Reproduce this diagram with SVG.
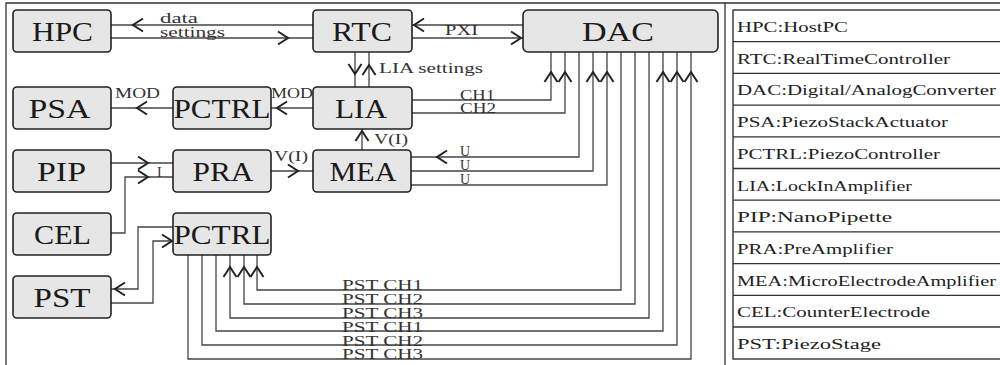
<svg xmlns="http://www.w3.org/2000/svg" xmlns:xlink="http://www.w3.org/1999/xlink" width="1000" height="365" viewBox="0 0 1000 365">
<style>
.node rect{fill:#e6e6e6;stroke:#222;stroke-width:1.6}
.nl{font-family:"Liberation Serif",serif;font-size:27px;fill:#1a1a1a}
.sl{font-family:"Liberation Serif",serif;font-size:14px;fill:#333}
.lg{font-family:"Liberation Serif",serif;font-size:14.5px;fill:#222}
.cn path{fill:none;stroke:#444;stroke-width:1.3}
.frame{fill:none;stroke:#333;stroke-width:1.3}
.lgb{fill:#fff;stroke:#222;stroke-width:1.3}
</style>
<defs>
<path id="ah" d="M-10,-6.5 L0,0 L-10,6.5" fill="none" stroke="#222" stroke-width="2" stroke-linejoin="miter"/>
</defs>
<rect width="1000" height="365" fill="#fff"/>
<path class="frame" d="M6,365 V3 H1000 M725,3 V365"/>

<g id="legend">
<rect class="lgb" x="733" y="10" width="280" height="349"/>
<path class="frame" d="M733,41.7 H1000 M733,73.4 H1000 M733,105.1 H1000 M733,136.8 H1000 M733,168.5 H1000 M733,200.2 H1000 M733,231.9 H1000 M733,263.6 H1000 M733,295.3 H1000 M733,327 H1000"/>
<text class="lg" x="737" y="32" textLength="111" lengthAdjust="spacingAndGlyphs">HPC:HostPC</text>
<text class="lg" x="737" y="63.7" textLength="213" lengthAdjust="spacingAndGlyphs">RTC:RealTimeController</text>
<text class="lg" x="737" y="95.4" textLength="259" lengthAdjust="spacingAndGlyphs">DAC:Digital/AnalogConverter</text>
<text class="lg" x="737" y="127.1" textLength="211" lengthAdjust="spacingAndGlyphs">PSA:PiezoStackActuator</text>
<text class="lg" x="737" y="158.8" textLength="203" lengthAdjust="spacingAndGlyphs">PCTRL:PiezoController</text>
<text class="lg" x="737" y="190.5" textLength="175" lengthAdjust="spacingAndGlyphs">LIA:LockInAmplifier</text>
<text class="lg" x="737" y="222.2" textLength="155" lengthAdjust="spacingAndGlyphs">PIP:NanoPipette</text>
<text class="lg" x="737" y="253.9" textLength="156" lengthAdjust="spacingAndGlyphs">PRA:PreAmplifier</text>
<text class="lg" x="737" y="285.6" textLength="259" lengthAdjust="spacingAndGlyphs">MEA:MicroElectrodeAmplifier</text>
<text class="lg" x="737" y="317.3" textLength="193" lengthAdjust="spacingAndGlyphs">CEL:CounterElectrode</text>
<text class="lg" x="737" y="349" textLength="144" lengthAdjust="spacingAndGlyphs">PST:PiezoStage</text>
</g>

<g id="connectors" class="cn">
<path d="M111,25 H313 M111,38 H313"/>
<path d="M412,25 H523 M412,38 H523"/>
<path d="M355,52 V87 M369,52 V87"/>
<path d="M313,108 H271 M173,108 H111"/>
<path d="M412,100 H551 V52 M412,113 H565 V52"/>
<path d="M579,52 V157 H411 M411,171 H593 V52 M411,185 H607 V52"/>
<path d="M621,52 V290 H257 V255 M635,52 V304 H244 V255 M649,52 V318 H230 V255"/>
<path d="M216,255 V331 H663 V52 M202,255 V345 H677 V52 M188,255 V359 H691 V52"/>
<path d="M111,163 H173 M111,233 H125 V177 H173"/>
<path d="M271,171 H313 M362,150 V129"/>
<path d="M173,227 H138 V289 H111 M111,303 H153 V241 H173"/>
<g id="arrows">
<use xlink:href="#ah" href="#ah" transform="translate(133,25) rotate(180)"/>
<use xlink:href="#ah" href="#ah" transform="translate(288,38)"/>
<use xlink:href="#ah" href="#ah" transform="translate(414,25) rotate(180)"/>
<use xlink:href="#ah" href="#ah" transform="translate(521,38)"/>
<use xlink:href="#ah" href="#ah" transform="translate(355,74) rotate(90)"/>
<use xlink:href="#ah" href="#ah" transform="translate(369,65) rotate(-90)"/>
<use xlink:href="#ah" href="#ah" transform="translate(277,108) rotate(180)"/>
<use xlink:href="#ah" href="#ah" transform="translate(137,108) rotate(180)"/>
<use xlink:href="#ah" href="#ah" transform="translate(551,72) rotate(-90)"/>
<use xlink:href="#ah" href="#ah" transform="translate(565,72) rotate(-90)"/>
<use xlink:href="#ah" href="#ah" transform="translate(593,72) rotate(-90)"/>
<use xlink:href="#ah" href="#ah" transform="translate(607,72) rotate(-90)"/>
<use xlink:href="#ah" href="#ah" transform="translate(663,72) rotate(-90)"/>
<use xlink:href="#ah" href="#ah" transform="translate(677,72) rotate(-90)"/>
<use xlink:href="#ah" href="#ah" transform="translate(691,72) rotate(-90)"/>
<use xlink:href="#ah" href="#ah" transform="translate(437,157) rotate(180)"/>
<use xlink:href="#ah" href="#ah" transform="translate(230,267) rotate(-90)"/>
<use xlink:href="#ah" href="#ah" transform="translate(244,267) rotate(-90)"/>
<use xlink:href="#ah" href="#ah" transform="translate(257,267) rotate(-90)"/>
<use xlink:href="#ah" href="#ah" transform="translate(148,163)"/>
<use xlink:href="#ah" href="#ah" transform="translate(148,177)"/>
<use xlink:href="#ah" href="#ah" transform="translate(298,171)"/>
<use xlink:href="#ah" href="#ah" transform="translate(362,131) rotate(-90)"/>
<use xlink:href="#ah" href="#ah" transform="translate(115,289) rotate(180)"/>
<use xlink:href="#ah" href="#ah" transform="translate(172,241)"/>
</g>
<g id="labels">
<text class="sl" x="160" y="22.5" font-size="13" textLength="38" lengthAdjust="spacingAndGlyphs">data</text>
<text class="sl" x="160" y="36.5" font-size="13" textLength="65" lengthAdjust="spacingAndGlyphs">settings</text>
<text class="sl" x="445" y="35" textLength="33" lengthAdjust="spacingAndGlyphs">PXI</text>
<text class="sl" x="379" y="73" textLength="104" lengthAdjust="spacingAndGlyphs">LIA settings</text>
<text class="sl" x="115" y="98" textLength="45" lengthAdjust="spacingAndGlyphs">MOD</text>
<text class="sl" x="271" y="98" textLength="42" lengthAdjust="spacingAndGlyphs">MOD</text>
<text class="sl" x="460" y="100" textLength="35" lengthAdjust="spacingAndGlyphs">CH1</text>
<text class="sl" x="460" y="113" textLength="36" lengthAdjust="spacingAndGlyphs">CH2</text>
<text class="sl" x="460" y="155.5">U</text>
<text class="sl" x="460" y="169.5">U</text>
<text class="sl" x="460" y="183.5">U</text>
<text class="sl" x="157" y="177" font-size="12">I</text>
<text class="sl" x="274" y="161" textLength="34" lengthAdjust="spacingAndGlyphs">V(I)</text>
<text class="sl" x="374" y="144" textLength="34" lengthAdjust="spacingAndGlyphs">V(I)</text>
<text class="sl" x="342" y="290" textLength="81" lengthAdjust="spacingAndGlyphs">PST CH1</text>
<text class="sl" x="342" y="304" textLength="81" lengthAdjust="spacingAndGlyphs">PST CH2</text>
<text class="sl" x="342" y="318" textLength="81" lengthAdjust="spacingAndGlyphs">PST CH3</text>
<text class="sl" x="342" y="331.5" textLength="81" lengthAdjust="spacingAndGlyphs">PST CH1</text>
<text class="sl" x="342" y="345.5" textLength="81" lengthAdjust="spacingAndGlyphs">PST CH2</text>
<text class="sl" x="342" y="359" textLength="81" lengthAdjust="spacingAndGlyphs">PST CH3</text>
</g>
</g>

<g id="HPC" class="node"><rect x="13" y="10" width="98" height="42" rx="4"/><text class="nl" x="32" y="41" textLength="61" lengthAdjust="spacingAndGlyphs">HPC</text></g>
<g id="RTC" class="node"><rect x="313" y="10" width="99" height="42" rx="4"/><text class="nl" x="332" y="41" textLength="60" lengthAdjust="spacingAndGlyphs">RTC</text></g>
<g id="DAC" class="node"><rect x="523" y="10" width="195" height="42" rx="5"/><text class="nl" x="582" y="41" textLength="72" lengthAdjust="spacingAndGlyphs">DAC</text></g>
<g id="PSA" class="node"><rect x="13" y="87" width="98" height="42" rx="4"/><text class="nl" x="28.5" y="118" textLength="62" lengthAdjust="spacingAndGlyphs">PSA</text></g>
<g id="PCTRL1" class="node"><rect x="173" y="87" width="98" height="42" rx="4"/><text class="nl" x="173.5" y="118" textLength="97" lengthAdjust="spacingAndGlyphs">PCTRL</text></g>
<g id="LIA" class="node"><rect x="313" y="87" width="99" height="42" rx="4"/><text class="nl" x="335" y="118" textLength="52" lengthAdjust="spacingAndGlyphs">LIA</text></g>
<g id="PIP" class="node"><rect x="13" y="150" width="98" height="42" rx="4"/><text class="nl" x="37" y="181" textLength="49" lengthAdjust="spacingAndGlyphs">PIP</text></g>
<g id="PRA" class="node"><rect x="173" y="150" width="98" height="42" rx="4"/><text class="nl" x="192.5" y="181" textLength="61" lengthAdjust="spacingAndGlyphs">PRA</text></g>
<g id="MEA" class="node"><rect x="313" y="150" width="98" height="42" rx="4"/><text class="nl" x="329.5" y="181" textLength="67" lengthAdjust="spacingAndGlyphs">MEA</text></g>
<g id="CEL" class="node"><rect x="13" y="213" width="98" height="42" rx="4"/><text class="nl" x="34" y="244" textLength="57" lengthAdjust="spacingAndGlyphs">CEL</text></g>
<g id="PCTRL2" class="node"><rect x="173" y="213" width="98" height="42" rx="4"/><text class="nl" x="173.5" y="244" textLength="97" lengthAdjust="spacingAndGlyphs">PCTRL</text></g>
<g id="PST" class="node"><rect x="13" y="276" width="98" height="42" rx="4"/><text class="nl" x="33.5" y="307" textLength="57" lengthAdjust="spacingAndGlyphs">PST</text></g>
</svg>
